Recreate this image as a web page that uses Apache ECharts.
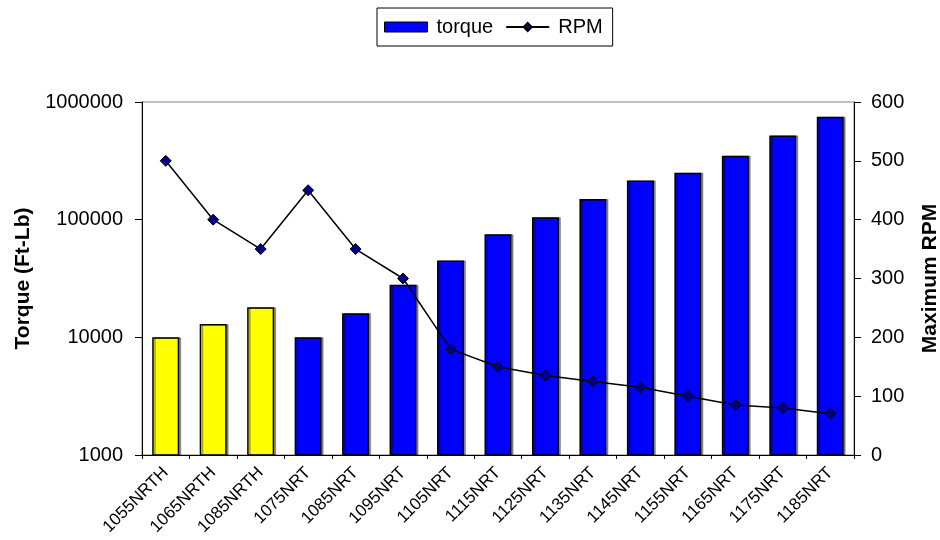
<!DOCTYPE html>
<html>
<head>
<meta charset="utf-8">
<script src="https://cdn.jsdelivr.net/npm/echarts@6/dist/echarts.min.js"></script>
<style>
html, body { margin: 0; padding: 0; background: #fff; }
#chart1 { width: 940px; height: 540px; }
</style>
</head>
<body>
<div id="chart1"></div>
<script>
var models = ['1055NRTH', '1065NRTH', '1085NRTH', '1075NRT', '1085NRT', '1095NRT', '1105NRT',
	'1115NRT', '1125NRT', '1135NRT', '1145NRT', '1155NRT', '1165NRT', '1175NRT', '1185NRT'];
var torque = [10000, 13000, 18000, 10000, 16000, 28000, 45000,
	75000, 105000, 150000, 215000, 250000, 350000, 520000, 750000];
var rpm = [500, 400, 350, 450, 350, 300, 180, 150, 135, 125, 115, 100, 85, 80, 70];
var yellowCount = 3; // first three are the NRTH models

var myChart = echarts.init(document.getElementById('chart1'));
var font = 'Liberation Sans, Arial, sans-serif';

var torqueData = torque.map(function (v, i) {
	return i < yellowCount ? { value: v, itemStyle: { color: '#FFFF00' } } : v;
});

var option = {
	animation: false,
	textStyle: { fontFamily: font },
	legend: {
		top: 8,
		left: 377,
		borderColor: '#000',
		borderWidth: 1,
		padding: [9, 10, 9, 7],
		itemGap: 12,
		textStyle: { fontSize: 20, color: '#000', fontFamily: font, padding: [0, 0, 0, 4] },
		data: [
			{ name: 'torque', icon: 'rect', itemStyle: { color: '#0000FF', borderColor: '#000', borderWidth: 1 } },
			{ name: 'RPM' }
		],
		itemWidth: 43,
		itemHeight: 10
	},
	grid: {
		left: 142, right: 86, top: 102, bottom: 85,
		outerBoundsMode: 'none',
		show: true, borderColor: '#808080', borderWidth: 1
	},
	xAxis: {
		type: 'category',
		data: models,
		axisLine: { lineStyle: { color: '#000', width: 1 } },
		axisTick: { show: true, inside: false, length: 4, lineStyle: { color: '#000' } },
		axisLabel: { rotate: 45, fontSize: 17, color: '#000', margin: 15, interval: 0, fontFamily: font }
	},
	yAxis: [
		{
			type: 'log',
			logBase: 10,
			min: 1000,
			max: 1000000,
			name: 'Torque (Ft-Lb)',
			nameLocation: 'middle',
			nameGap: 108,
			nameTextStyle: { fontSize: 21, fontWeight: 'bold', color: '#000', fontFamily: font },
			axisLine: { show: true, lineStyle: { color: '#000' } },
			axisTick: { show: true, length: 7, lineStyle: { color: '#000' } },
			axisLabel: {
				fontSize: 20, color: '#000', margin: 19, fontFamily: font,
				formatter: function (v) { return String(Math.round(v)); }
			},
			splitLine: { show: false }
		},
		{
			type: 'value',
			min: 0,
			max: 600,
			interval: 100,
			name: 'Maximum RPM',
			nameLocation: 'middle',
			nameGap: 66,
			nameTextStyle: { fontSize: 21, fontWeight: 'bold', color: '#000', fontFamily: font },
			axisLine: { show: true, lineStyle: { color: '#000' } },
			axisTick: { show: true, length: 7, lineStyle: { color: '#000' } },
			axisLabel: { fontSize: 20, color: '#000', margin: 17, fontFamily: font },
			splitLine: { show: false }
		}
	],
	series: [
		{
			name: 'torque',
			type: 'bar',
			yAxisIndex: 0,
			barWidth: 27,
			itemStyle: {
				color: '#0000FF', borderColor: '#000', borderWidth: 1.5,
				shadowColor: 'rgba(0,0,0,0.35)', shadowOffsetX: 2, shadowOffsetY: 0, shadowBlur: 0
			},
			data: torqueData
		},
		{
			name: 'RPM',
			type: 'line',
			yAxisIndex: 1,
			symbol: 'diamond',
			symbolSize: 11,
			lineStyle: { color: '#000', width: 1.5 },
			itemStyle: { color: '#000080', borderColor: '#000', borderWidth: 1 },
			data: rpm
		}
	]
};

myChart.setOption(option);
</script>
</body>
</html>
